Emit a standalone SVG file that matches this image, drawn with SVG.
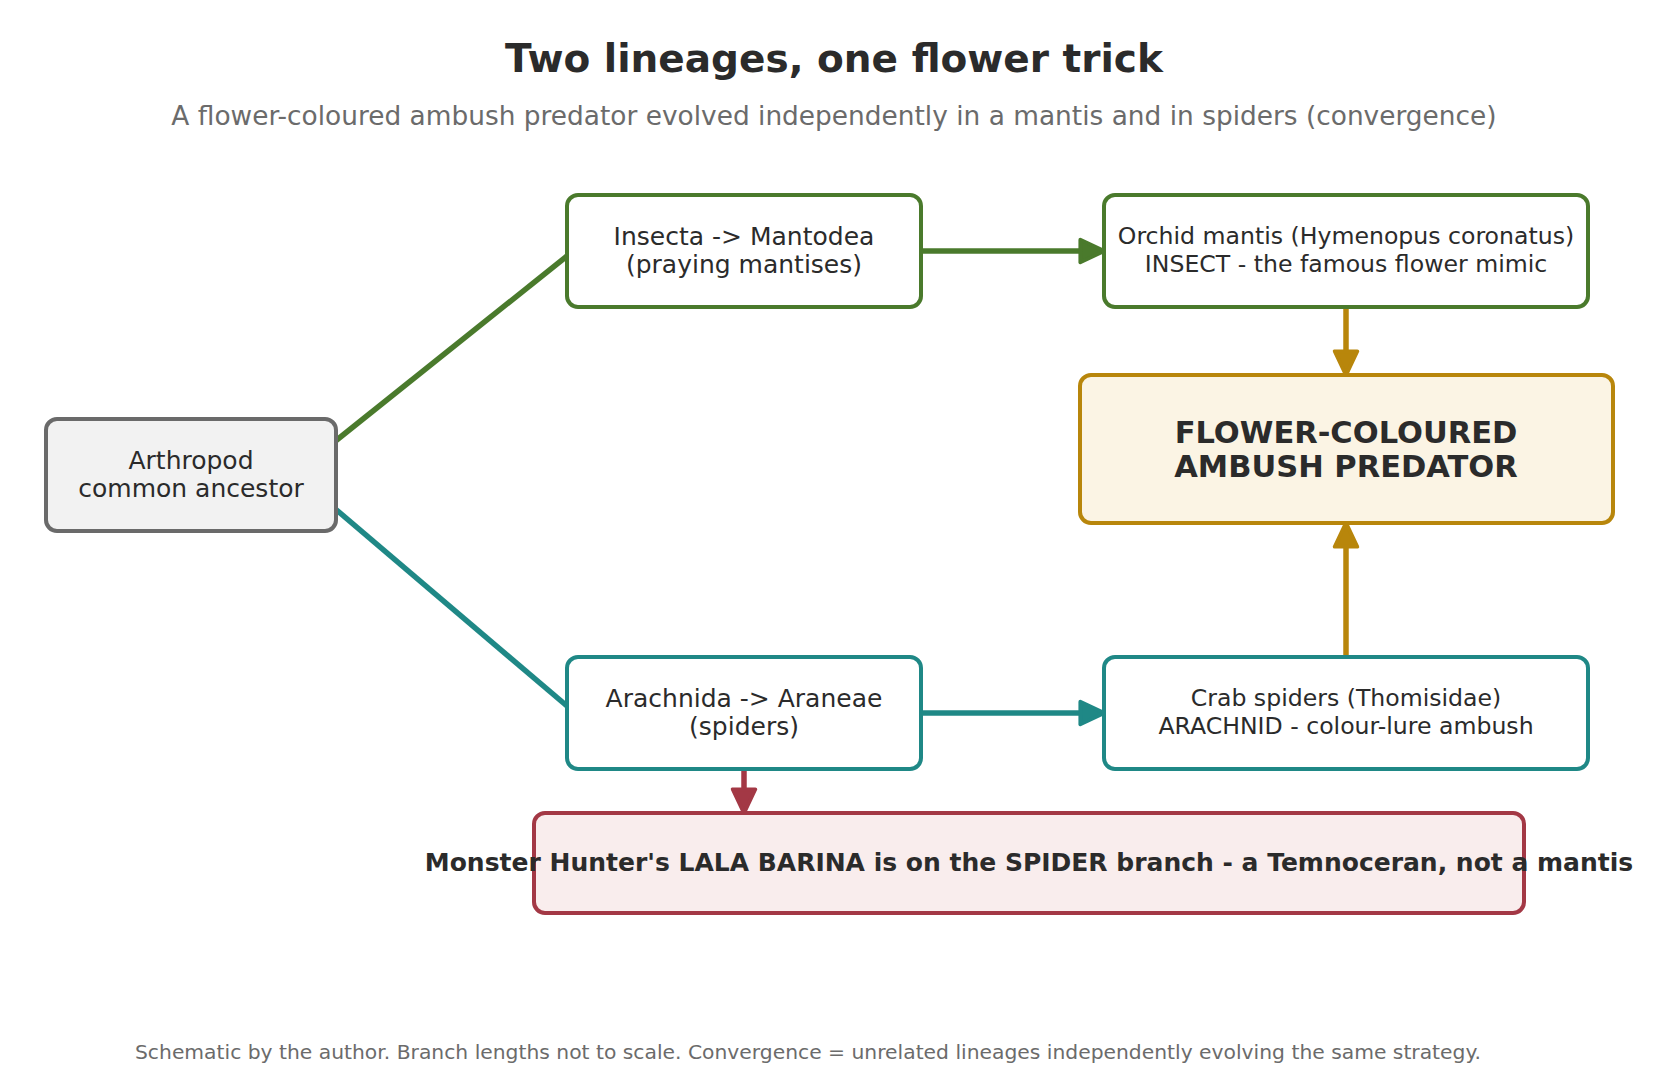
<svg xmlns="http://www.w3.org/2000/svg" width="1667" height="1082" viewBox="0 0 1667 1082">
<style>
text{font-family:"DejaVu Sans","Liberation Sans",sans-serif;fill:#2b2b2b;text-anchor:middle}
.t{font-size:39px;font-weight:bold}
.sub{font-size:26.4px;fill:#6b6b6b}
.foot{font-size:20.3px;fill:#6b6b6b}
.n{font-size:25px}
.m{font-size:23.6px}
.b{font-weight:bold}
rect{stroke-width:4}
.g{fill:#fff;stroke:#4a7a2c}
.tl{fill:#fff;stroke:#1f8886}
.gr{fill:#f2f2f2;stroke:#6a6a6a}
.au{fill:#fbf4e4;stroke:#b8860b}
.rd{fill:#f9eded;stroke:#a33845}
.c{fill:none;stroke-width:5.5}
marker path{stroke-linejoin:round;stroke-width:1.5}
</style>
<defs>
<marker id="ag" viewBox="-1 -1 12 12" refX="9" refY="5" markerWidth="5.5" markerHeight="5.5" orient="auto" markerUnits="strokeWidth"><path d="M0,0.5L9.5,5L0,9.5z" fill="#4a7a2c" stroke="#4a7a2c"/></marker>
<marker id="at" viewBox="-1 -1 12 12" refX="9" refY="5" markerWidth="5.5" markerHeight="5.5" orient="auto" markerUnits="strokeWidth"><path d="M0,0.5L9.5,5L0,9.5z" fill="#1f8886" stroke="#1f8886"/></marker>
<marker id="ao" viewBox="-1 -1 12 12" refX="9" refY="5" markerWidth="5.5" markerHeight="5.5" orient="auto" markerUnits="strokeWidth"><path d="M0,0.5L9.5,5L0,9.5z" fill="#b8860b" stroke="#b8860b"/></marker>
<marker id="ar" viewBox="-1 -1 12 12" refX="9" refY="5" markerWidth="5.5" markerHeight="5.5" orient="auto" markerUnits="strokeWidth"><path d="M0,0.5L9.5,5L0,9.5z" fill="#a33845" stroke="#a33845"/></marker>
</defs>
<rect x="0" y="0" width="1667" height="1082" fill="#fff" stroke="none"/>
<text class="t" x="834" y="72">Two lineages, one flower trick</text>
<text class="sub" x="834" y="125">A flower-coloured ambush predator evolved independently in a mantis and in spiders (convergence)</text>
<g id="connectors">
<line class="c" x1="333" y1="443" x2="567" y2="256" stroke="#4a7a2c"/>
<line class="c" x1="333" y1="507" x2="567" y2="706" stroke="#1f8886"/>
<line class="c" x1="921" y1="251" x2="1103" y2="251" stroke="#4a7a2c" marker-end="url(#ag)"/>
<line class="c" x1="921" y1="713" x2="1103" y2="713" stroke="#1f8886" marker-end="url(#at)"/>
<line class="c" x1="1346" y1="307" x2="1346" y2="374" stroke="#b8860b" marker-end="url(#ao)"/>
<line class="c" x1="1346" y1="657" x2="1346" y2="524" stroke="#b8860b" marker-end="url(#ao)"/>
<line class="c" x1="744" y1="769" x2="744" y2="812" stroke="#a33845" stroke-width="4" marker-end="url(#ar)"/>
</g>
<g id="arthropod"><rect class="gr" x="46" y="419" width="290" height="112" rx="11"/><text class="n" x="191" y="469">Arthropod</text><text class="n" x="191" y="497">common ancestor</text></g>
<g id="insecta"><rect class="g" x="567" y="195" width="354" height="112" rx="11"/><text class="n" x="744" y="245">Insecta -&gt; Mantodea</text><text class="n" x="744" y="273">(praying mantises)</text></g>
<g id="orchid"><rect class="g" x="1104" y="195" width="484" height="112" rx="11"/><text class="m" x="1346" y="244">Orchid mantis (Hymenopus coronatus)</text><text class="m" x="1346" y="272">INSECT - the famous flower mimic</text></g>
<g id="flower"><rect class="au" x="1080" y="375" width="533" height="148" rx="11"/><text class="b" style="font-size:30.5px" x="1346" y="443">FLOWER-COLOURED</text><text class="b" style="font-size:30.5px" x="1346" y="477">AMBUSH PREDATOR</text></g>
<g id="arachnida"><rect class="tl" x="567" y="657" width="354" height="112" rx="11"/><text class="n" x="744" y="707">Arachnida -&gt; Araneae</text><text class="n" x="744" y="735">(spiders)</text></g>
<g id="crab"><rect class="tl" x="1104" y="657" width="484" height="112" rx="11"/><text class="m" x="1346" y="706">Crab spiders (Thomisidae)</text><text class="m" x="1346" y="734">ARACHNID - colour-lure ambush</text></g>
<g id="lala"><rect class="rd" x="534" y="813" width="990" height="100" rx="11"/><text class="n b" x="1029" y="871">Monster Hunter's LALA BARINA is on the SPIDER branch - a Temnoceran, not a mantis</text></g>
<text class="foot" x="808" y="1059">Schematic by the author. Branch lengths not to scale. Convergence = unrelated lineages independently evolving the same strategy.</text>
</svg>
